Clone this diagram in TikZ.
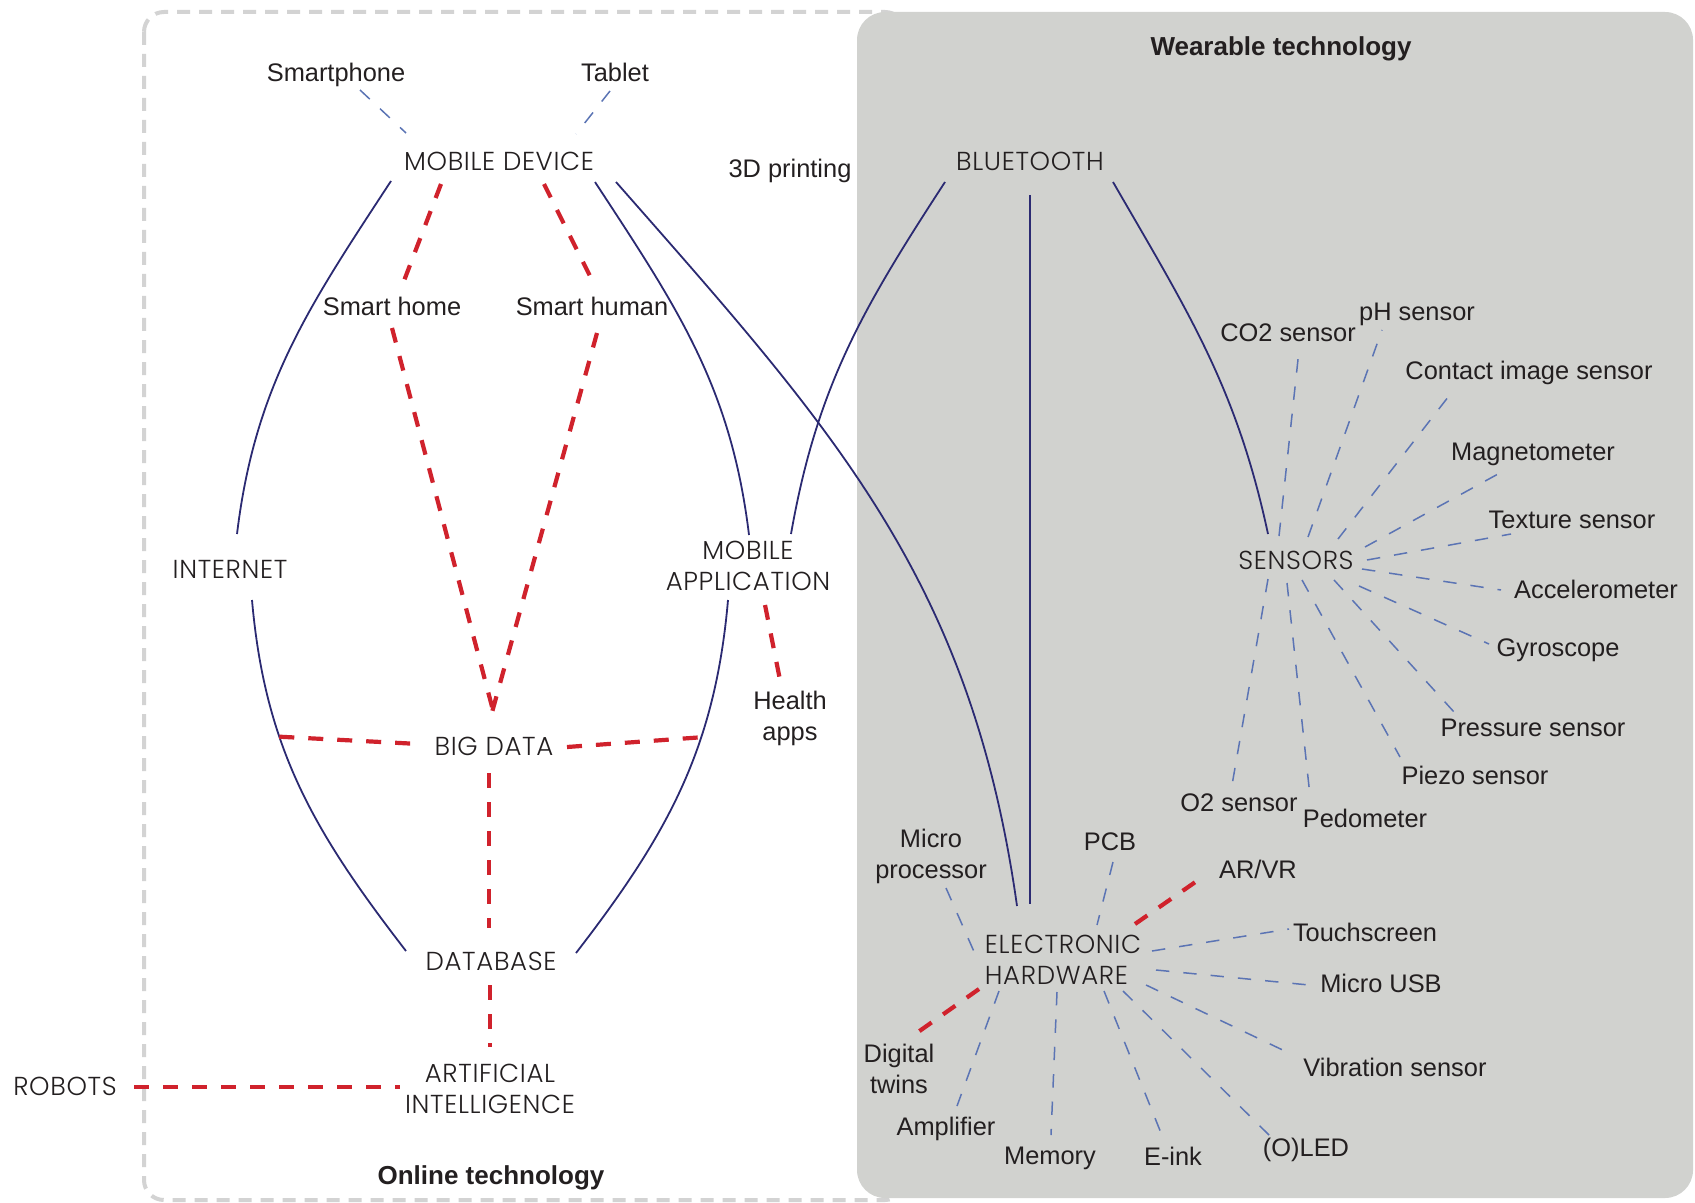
\documentclass[tikz,border=0pt]{standalone}
\usepackage{fontspec}
\setmainfont{Liberation Sans}
\IfFontExistsTF{Poppins Light}{\newfontfamily\capsfont[LetterSpace=2.5]{Poppins Light}}{\newfontfamily\capsfont[LetterSpace=2.5]{Poppins}}
\definecolor{ink}{HTML}{231F20}
\definecolor{navy}{HTML}{2B2A72}
\definecolor{linkred}{HTML}{D0222C}
\definecolor{spoke}{HTML}{5B74B4}
\definecolor{panel}{HTML}{D1D2CF}
\definecolor{frame}{HTML}{D3D3D3}
\begin{document}
\begin{tikzpicture}[x=0.5pt,y=-0.5pt,
  lbltwo/.style={font=\fontsize{12.7}{15.5}\selectfont, text=ink, inner sep=0pt, align=center},
  lbl/.style={lbltwo, text depth=0pt},
  capnode/.style={font=\capsfont\fontsize{13}{15.5}\selectfont, text=ink, inner sep=0pt, align=center},
  ttl/.style={font=\bfseries\fontsize{13}{15.5}\selectfont, text=ink, inner sep=0pt, text depth=0pt},
  solidlink/.style={draw=navy, line width=0.9pt},
  hotlink/.style={draw=linkred, line width=2.1pt, dash pattern=on 7.5pt off 7pt},
  spokelink/.style={draw=spoke, line width=0.75pt, dash pattern=on 6.7pt off 7pt},
]
\useasboundingbox (0,0) rectangle (1695,1203);

% the two technology areas
\draw[line width=2pt, draw=frame, dash pattern=on 6.5pt off 4.5pt, rounded corners=10pt]
  (144,12) rectangle (905,1200);
\fill[panel, rounded corners=14pt] (857,12) rectangle (1693,1198);

% titles
\node[ttl] (weartitle) at (1281,46) {Wearable technology};
\node[ttl] (onlinetitle) at (491,1175) {Online technology};

% online technology
\node[lbl] (phone) at (336,72) {Smartphone};
\node[lbl] (tablet) at (615,72) {Tablet};
\node[capnode] (mobdev) at (499,161) {MOBILE DEVICE};
\node[lbl] (print3d) at (790,168) {3D printing};
\node[lbl] (smhome) at (392,306) {Smart home};
\node[lbl] (smhuman) at (592,306) {Smart human};
\node[capnode] (inet) at (230,569) {INTERNET};
\node[capnode] (mobapp) at (748,566) {MOBILE\\APPLICATION};
\node[capnode] (bigdata) at (494,746) {BIG DATA};
\node[lbltwo] (health) at (790,718) {Health\\apps};
\node[capnode] (db) at (491,961) {DATABASE};
\node[capnode] (ai) at (490,1089) {ARTIFICIAL\\INTELLIGENCE};
\node[capnode] (robots) at (65,1086) {ROBOTS};

% wearable technology
\node[capnode] (bt) at (1030,161) {BLUETOOTH};
\node[capnode] (sensors) at (1296,560) {SENSORS};
\node[lbl] (co2) at (1288,333) {CO2 sensor};
\node[lbl] (ph) at (1417,312) {pH sensor};
\node[lbl] (contact) at (1529,370) {Contact image sensor};
\node[lbl] (magneto) at (1533,452) {Magnetometer};
\node[lbl] (texture) at (1572,520) {Texture sensor};
\node[lbl] (accel) at (1596,589) {Accelerometer};
\node[lbl] (gyro) at (1558,648) {Gyroscope};
\node[lbl] (pressure) at (1533,728) {Pressure sensor};
\node[lbl] (piezo) at (1475,775) {Piezo sensor};
\node[lbl] (otwo) at (1239,803) {O2 sensor};
\node[lbl] (pedo) at (1365,818) {Pedometer};

\node[capnode, align=left] (ehw) at (1063,960) {ELECTRONIC\\HARDWARE};
\node[lbltwo] (micro) at (931,856) {Micro\\processor};
\node[lbl] (pcb) at (1110,842) {PCB};
\node[lbl] (arvr) at (1258,869) {AR/VR};
\node[lbl] (touch) at (1365,932) {Touchscreen};
\node[lbl] (usb) at (1381,983) {Micro USB};
\node[lbl] (vibra) at (1395,1067) {Vibration sensor};
\node[lbl] (oled) at (1306,1147) {(O)LED};
\node[lbl] (eink) at (1173,1156) {E-ink};
\node[lbl] (memory) at (1050,1156) {Memory};
\node[lbl] (amp) at (946,1126) {Amplifier};
\node[lbltwo] (twins) at (899,1069) {Digital\\twins};

% solid links
\draw[solidlink] ([shift={(-108,20)}]mobdev.center) .. controls +(-82.5,126) and +(18,-148.5) .. ([shift={(7,-35)}]inet.center);
\draw[solidlink] ([shift={(22,31)}]inet.center) .. controls +(13,149) and +(-91.5,-118.5) .. ([shift={(-85,-10)}]db.center) coordinate[pos=0.35] (ljoin);
\draw[solidlink] ([shift={(96,21)}]mobdev.center) .. controls +(82.5,126) and +(-18,-148.5) .. ([shift={(1,-31)}]mobapp.center);
\draw[solidlink] ([shift={(-20,34)}]mobapp.center) .. controls +(-13,149) and +(91.5,-118.5) .. ([shift={(85,-8)}]db.center) coordinate[pos=0.35] (rjoin);
\draw[solidlink] ([shift={(117,21)}]mobdev.center) .. controls +(218,248) and +(-46,-327) .. ([shift={(-46,-54)}]ehw.center);
\draw[solidlink] ([shift={(-85,21)}]bt.center) .. controls +(-82,126) and +(26,-148) .. ([shift={(43,-32)}]mobapp.center);
\draw[solidlink] ([shift={(0,34)}]bt.center) -- ([shift={(-33,-56)}]ehw.center);
\draw[solidlink] ([shift={(83,21)}]bt.center) .. controls +(75,130) and +(-31.5,-147) .. ([shift={(-28,-26)}]sensors.center);

% red dashed links
\draw[hotlink] ([shift={(-58,23)}]mobdev.center) -- ([shift={(10,-20)}]smhome.center);
\draw[hotlink] ([shift={(45,23)}]mobdev.center) -- ([shift={(3,-20)}]smhuman.center);
\draw[hotlink] ([shift={(0,22)}]smhome.center) -- ([shift={(1,-28)}]bigdata.center);
\draw[hotlink] ([shift={(5,27)}]smhuman.center) -- ([shift={(-3,-30)}]bigdata.center);
\draw[hotlink] (ljoin) -- ([shift={(-75,-2)}]bigdata.center);
\draw[hotlink] ([shift={(73,1)}]bigdata.center) -- (rjoin);
\draw[hotlink] ([shift={(-5,27)}]bigdata.center) -- ([shift={(-2,-33)}]db.center);
\draw[hotlink] ([shift={(-1,24)}]db.center) -- ([shift={(0,-42)}]ai.center);
\draw[hotlink] ([shift={(69,1)}]robots.center) -- ([shift={(-90,-2)}]ai.center);
\draw[hotlink] ([shift={(17,39)}]mobapp.center) -- ([shift={(-10,-38)}]health.center);
\draw[hotlink] ([shift={(72,-36)}]ehw.center) -- ([shift={(-54,7)}]arvr.center);
\draw[hotlink] ([shift={(-84,29)}]ehw.center) -- ([shift={(12,-32)}]twins.center);

% device spokes
\draw[spokelink] ([shift={(24,18)}]phone.center) -- ([shift={(-93,-28)}]mobdev.center);
\draw[spokelink] ([shift={(-5,19)}]tablet.center) -- ([shift={(77,-27)}]mobdev.center);

% sensor spokes
\draw[spokelink] ([shift={(-17,-24)}]sensors.center) -- ([shift={(11,17)}]co2.center);
\draw[spokelink] ([shift={(12,-23)}]sensors.center) -- ([shift={(-35,18)}]ph.center);
\draw[spokelink] ([shift={(42,-21)}]sensors.center) -- ([shift={(-77,22)}]contact.center);
\draw[spokelink] ([shift={(69,-13)}]sensors.center) -- ([shift={(-35,22)}]magneto.center);
\draw[spokelink] ([shift={(71,0)}]sensors.center) -- ([shift={(-61,14)}]texture.center);
\draw[spokelink] ([shift={(66,9)}]sensors.center) -- ([shift={(-95,1)}]accel.center);
\draw[spokelink] ([shift={(63,26)}]sensors.center) -- ([shift={(-69,-4)}]gyro.center);
\draw[spokelink] ([shift={(38,20)}]sensors.center) -- ([shift={(-79,-16)}]pressure.center);
\draw[spokelink] ([shift={(6,20)}]sensors.center) -- ([shift={(-75,-18)}]piezo.center);
\draw[spokelink] ([shift={(-9,23)}]sensors.center) -- ([shift={(-55,-22)}]pedo.center);
\draw[spokelink] ([shift={(-28,19)}]sensors.center) -- ([shift={(-7,-18)}]otwo.center);

% hardware spokes
\draw[spokelink] ([shift={(15,32)}]micro.center) -- ([shift={(-84,3)}]ehw.center);
\draw[spokelink] ([shift={(3,20)}]pcb.center) -- ([shift={(34,-35)}]ehw.center);
\draw[spokelink] ([shift={(89,-9)}]ehw.center) -- ([shift={(-76,-3)}]touch.center);
\draw[spokelink] ([shift={(93,10)}]ehw.center) -- ([shift={(-72,2)}]usb.center);
\draw[spokelink] ([shift={(83,25)}]ehw.center) -- ([shift={(-106,-14)}]vibra.center);
\draw[spokelink] ([shift={(60,31)}]ehw.center) -- ([shift={(-37,-12)}]oled.center);
\draw[spokelink] ([shift={(41,31)}]ehw.center) -- ([shift={(-12,-23)}]eink.center);
\draw[spokelink] ([shift={(-6,32)}]ehw.center) -- ([shift={(1,-21)}]memory.center);
\draw[spokelink] ([shift={(-64,31)}]ehw.center) -- ([shift={(11,-20)}]amp.center);
\end{tikzpicture}
\end{document}
